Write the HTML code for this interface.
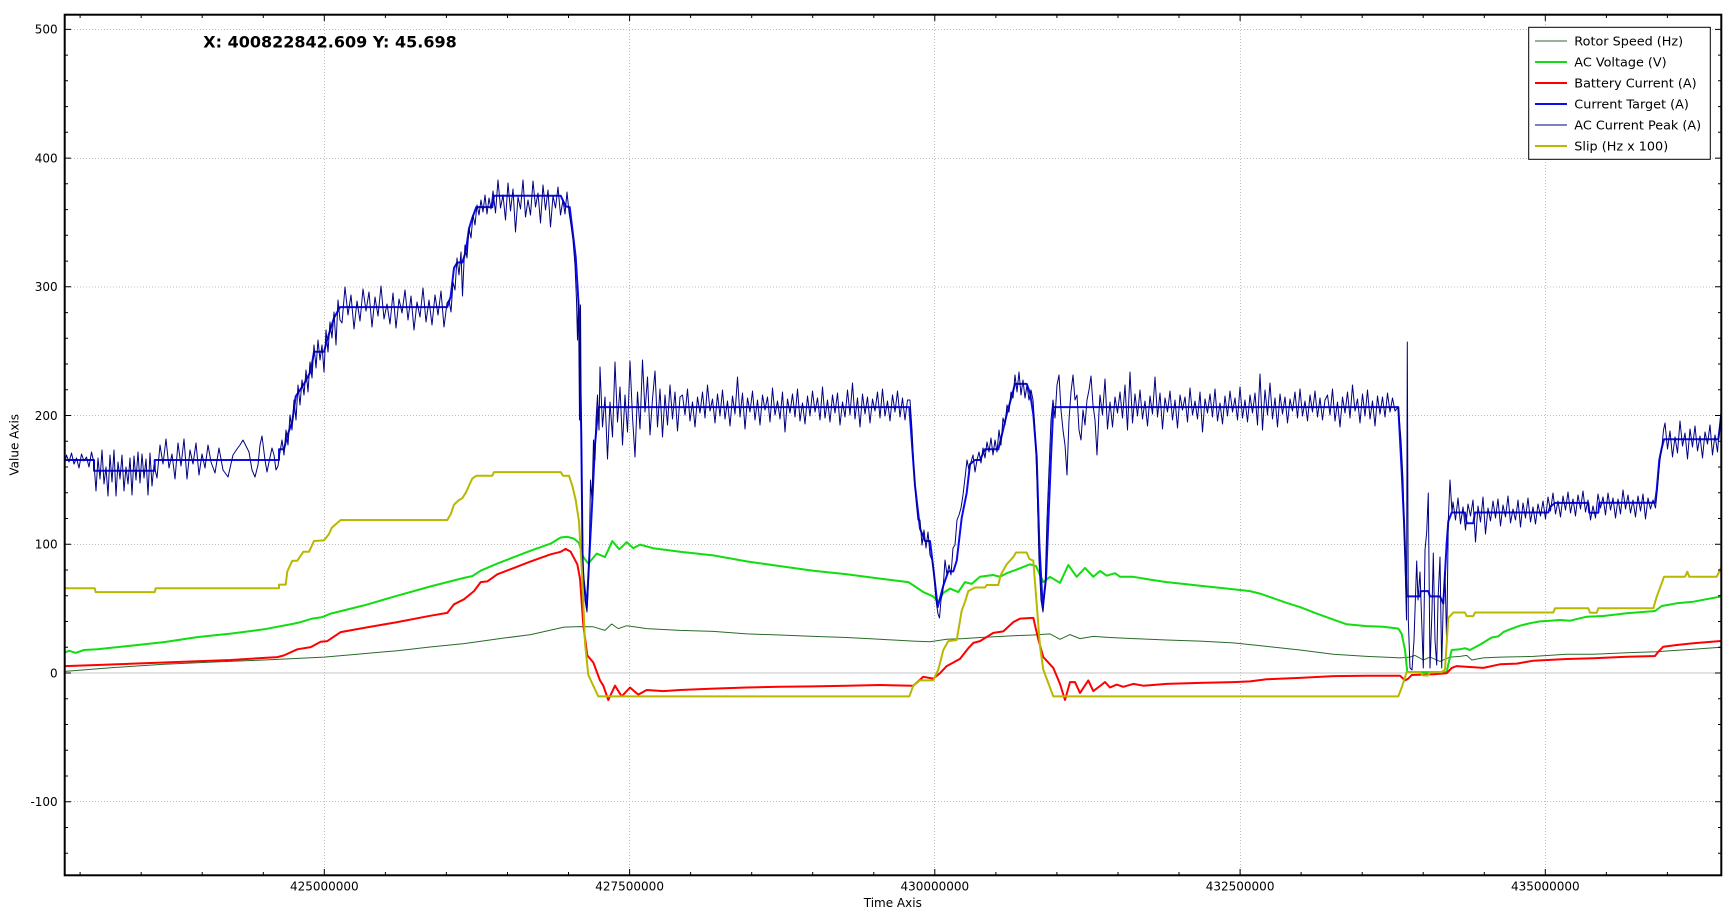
<!DOCTYPE html>
<html><head><meta charset="utf-8"><style>
html,body{margin:0;padding:0;background:#fff;}
body{width:1736px;height:918px;overflow:hidden;}
svg{display:block;}
text{font-family:"DejaVu Sans","Liberation Sans",sans-serif;fill:#000;}
</style></head><body>
<svg width="1736" height="918" viewBox="0 0 1736 918" xmlns="http://www.w3.org/2000/svg">
<defs><clipPath id="pc"><rect x="65" y="15" width="1656" height="860"/></clipPath></defs>
<rect x="0" y="0" width="1736" height="918" fill="#fff"/>
<!-- grid -->
<g stroke="#bdbdbd" stroke-width="1" stroke-dasharray="1,2" fill="none">
<path d="M65,29.5H1721M65,158.5H1721M65,287H1721M65,415.5H1721M65,544.5H1721M65,801.5H1721"/>
<path d="M324.5,15V875M629.5,15V875M934.5,15V875M1240.5,15V875M1545.5,15V875"/>
</g>
<path d="M65,673H1721" stroke="#c4c4c4" stroke-width="1"/>
<!-- series -->
<g clip-path="url(#pc)" fill="none" stroke-linejoin="round" stroke-linecap="round">
<path stroke="#2a6a2a" stroke-width="1" d="M64,671.4 L114,667.5 164,664.3 214,662 264,660 324,657.1 360,654 397.3,650.7 430,647 464,643.6 497,639 530.7,634.6 564,627.1 580,626.6 593.3,626.8 605,630.4 611.7,624 618.3,628.6 626.7,625.7 646.7,628.6 680,630.4 713.3,631.4 746.7,633.9 780,635 813.3,636.4 846.7,637.5 880,639.3 913.3,641.1 930,641.8 946.7,639.3 963.3,638.6 980,637.5 1013.3,635.7 1033.3,635 1050,633.9 1060,639.3 1070,634.6 1080,638.6 1093.3,636.4 1110,637.5 1133.3,638.6 1166.7,640 1200,641.1 1233.3,642.9 1266.7,646.4 1300,650 1333.3,654.3 1366.7,656.4 1400,657.9 1410,657.1 1415,655.4 1423.3,660 1430,657.1 1440,661.4 1450,657.1 1460,656.4 1466.7,655.4 1471.7,660 1483.3,657.9 1500,657.1 1533.3,656.4 1566.7,654.3 1593.3,654.3 1626.7,652.7 1656.7,651.7 1666.7,651 1693.3,649.3 1721,647.3"/>
<path stroke="#11dd11" stroke-width="2" d="M64,652.9 L69,650.7 75.7,652.9 84,650 97.3,649.3 130.7,645.7 164,642.1 197.3,637.1 230.7,633.6 264,629.3 294,623.6 300.7,622.1 312.3,618.6 322.3,617.1 330.7,613.6 364,605.4 397.3,595.7 430.7,586.4 447.3,582.1 464,577.9 472.3,576.1 480.7,570.7 497.3,563.6 514,557.1 530.7,550.7 550.7,543.6 560.7,537.5 567.3,536.8 574,538.6 579,542.9 583.3,557 588.3,563.6 596.7,553.6 605,557.1 612.3,541.1 619.3,549.3 626.7,542.1 633.3,548.2 640,544.6 653.3,548.2 680,551.8 713.3,555.4 746.7,561.4 780,566.1 813.3,570.7 846.7,574.3 880,578.6 908.3,582.1 915,586.4 923.3,592.1 933.3,596.4 938.3,601.8 943.3,592.9 950,588.6 958.3,592.1 965,582.1 971.7,583.9 980,576.8 993.3,575 1000,576.8 1006.7,573.2 1016.7,569.6 1030,564.3 1036,566.1 1043.3,582.1 1050,576.8 1060,582.9 1068.3,565 1076.7,576.8 1085,567.9 1093.3,576.8 1100,571 1106.7,575.7 1115,573.2 1120,576.8 1133.3,576.8 1150,579.6 1166.7,582.1 1183.3,583.9 1200,585.7 1216.7,587.5 1233.3,589.3 1250,591.1 1260,593.6 1273.3,598.2 1286.7,602.9 1300,607.1 1316.7,613.6 1333.3,619.6 1346.7,624.3 1366.7,626.1 1383.3,626.8 1398.3,628.6 1401.7,633.9 1405,650 1407.3,672.1 1446.7,672.1 1448.3,664.3 1451.7,650 1460,649.3 1465,648.2 1470,650 1480,644.6 1491.7,637.5 1498.3,636.4 1503.3,632.1 1510,629.3 1520,625.7 1530,623.2 1540,621.4 1550,620.7 1560,620 1570,620.7 1586.7,616.7 1603.3,616 1626.7,613.3 1655,611 1661.7,606 1676.7,603.3 1693.3,601.7 1721,596.5"/>
<path stroke="#ff0000" stroke-width="2" d="M64,666.1 L97.3,665 164,662.5 230.7,660 277.3,657.1 284,655.4 297.3,649.3 310.7,647.1 320.7,641.8 327.3,641.1 340.7,632.1 364,627.9 397.3,622.1 430.7,615.7 447.3,612.9 454,604.3 464,599.3 474,591.1 480.7,582.1 487.3,581.4 497.3,574.3 514,567.9 530.7,561.4 550.7,554.3 560.7,551.8 565.7,548.9 570.7,551.8 577.3,564.3 580,578.6 583.3,625 587.3,655.4 593.3,662.5 600,680.4 603.3,685.7 608.3,700 615,685.7 621.7,696.4 630,687.5 638.3,694.6 646.7,690 663.3,691.1 680,690 713.3,688.6 746.7,687.5 780,686.8 813.3,686.4 846.7,685.7 880,685 913.3,685.7 923.3,676.8 933.3,678.6 940,673.2 946.7,666.1 960,658.9 968.3,648.2 973.3,642.9 980,641.1 993.3,632.9 1003.3,631.4 1013.3,622.1 1020,618.6 1033.3,617.9 1038.3,639.3 1043.3,657.1 1053.3,667.9 1060,683.9 1065,700 1070,682.1 1075,682.1 1080,692.9 1088.3,680.4 1093.3,691.1 1100,686 1105,682.1 1110,687.5 1116.7,684.6 1123.3,686.8 1133.3,683.9 1143.3,685.7 1166.7,683.9 1200,682.9 1233.3,682.1 1250,681.4 1266.7,679.3 1300,677.9 1333.3,676.1 1366.7,675.7 1400,675.7 1405,680.4 1408.3,678.6 1411.7,675 1433.3,674.3 1446.7,673.2 1451.7,667.9 1456.7,666.1 1483.3,667.9 1500,664.3 1516.7,663.6 1533.3,660.7 1566.7,659 1593.3,658.3 1626.7,656.7 1655,656 1658.3,651.7 1663.3,646.7 1676.7,645 1693.3,643.3 1721,641"/>
<path stroke="#0a0af5" stroke-width="2" d="M64,460 L94,460 94,470.7 154.7,470.7 154.7,460 279,460 279,449.3 284,449.3 287.3,435.7 292.3,421.4 295.7,396.4 304,384 310.7,371.4 314,351.8 324,351.8 327.3,339.3 334,317.9 340,307.1 447.3,307.1 450.7,296.4 454,267.9 457.3,262.5 462.3,262.5 465.7,251.8 469,228.6 472.3,217.9 476.3,207.1 492.3,207.1 494,195.7 560.7,195.7 565.7,206.4 569.7,207.1 572.3,228.6 575.7,257 579,310.7 581.3,435.7 582.7,571.4 586.7,607.1 592.7,492.9 595,444.6 598.3,407.1 909.3,407.1 915,485.7 920,528.6 925,541 930,541 933.3,567.9 937.7,607.1 943.3,585.7 948.3,571.4 953.3,571.4 956.7,560.7 961.7,517.9 966.7,492.9 970,464.3 975,460 980,460 985,449.3 998.3,449.3 1001.7,435.7 1006.7,414.3 1011.7,396.4 1015,383.9 1026.7,383.9 1030,392.9 1033.3,414.3 1036.7,457.1 1039.3,542.9 1042.7,607.1 1046,578.6 1051,457.1 1053.3,407.1 1398.3,407.1 1401.7,471.4 1404,521.4 1406.7,596.4 1420,596.4 1420.7,591.1 1428.3,591.1 1430,596.4 1440,596.4 1443.3,603.6 1446.7,542.9 1448.3,521.4 1451.7,512.5 1465,512.5 1466.7,523.2 1473.3,523.2 1475,512.5 1548.3,512.5 1550,507 1555,502.9 1588.3,502.9 1589.3,512.7 1598.3,512.7 1599.3,502.7 1655,502.7 1656.7,490 1659.3,460 1661.7,448.3 1664,439.3 1718.3,439.3 1720,426 1721,416.7"/>
<path stroke="#000080" stroke-width="1" d="M64,466 L66.5,455 69,462 71.5,453 74,464 76.5,458 79,468 81.5,454 84,461 86.5,457 89,467 91.5,452 94,463 96,491 98,458 100,479 102,450 104,484 106,467 108,496 110,455 112,482 114,450 116,496 118,462 120,479 122,455 124,491 126,467 128,484 130,458 132,495 134,456 136,480 138,452 140,483 142,454 144,478 146,459 148,495 150,453 152,486 154,465 157,478 160,445 163,464 166,439 169,468 172,454 175,479 178,443 181,466 184,439 187,479 190,450 193,464 196,443 199,475 202,454 205,468 208,445 211,462 215,473 219,448 223,470 228,477 233,455 237,449 240,445 243,440 246,446 249,452 252,470 255,477 258,465 260,445 262,436 265,460 267,472 269,462 272,448 274,455 276,470 278,466 280,452 282,440 284,455 286,430 288,445 290,415 292,430 294,400 296,420 298,385 300,405 302,380 304,395 306,370 308,392 310,362 312,378 314,345 316,368 318,340 320,360 322,345 324,372 326,330 328,352 330,322 332,338 334,312 336,345 338,300 340,320 342,323 345,287 348,315 351,295 354,329 357,301 360,321 363,289 366,311 369,292 372,327 375,297 378,316 381,286 384,319 387,304 390,324 393,293 396,328 399,299 402,313 405,290 408,320 411,296 414,330 417,302 420,317 423,288 426,322 429,300 432,325 435,295 438,315 441,291 444,327 447,303 449,300 451,312 453,282 455,290 457,258 459,275 461,252 462.5,296 464,262 465,245 467,258 469,228 471,238 473,215 475,225 477,205 479,215 481,200 483,212 485,195 487,214 489,198 491,209 493,191 495.5,213 498,180 500.5,208 503,195 505.5,220 508,183 510.5,211 513,189 515.5,232 518,197 520.5,209 523,180 525.5,217 528,200 530.5,215 533,181 535.5,207 538,193 540.5,223 543,185 545.5,210 548,190 550.5,227 553,196 555.5,208 558,187 560.5,215 563,200 565,214 567,192 569,212 571,225 573,240 575,265 576.5,300 577.5,340 578.5,300 579.5,420 580.5,305 581.5,460 583,560 585,600 587,612 589,570 590.5,480 592,500 593.5,440 595,460 596,420 597.5,395 599,430 600,367 602.5,427 605,397 607.5,459 610,402 612.5,437 615,362 617.5,422 620,387 622.5,445 625,395 627.5,432 630,361 632.5,417 635,457 637.5,392 640,429 642.5,360 645,412 647.5,377 650,435 652.5,399 655,371 657.5,427 660,389 662.5,437 665,395 667.5,425 670,385 672.5,419 675,392 677.5,431 680,397 682.5,395 685,415 687.5,389 690,421 692.5,402 695,427 697.5,397 700,413 702.5,392 705,418 707.5,385 710,411 712.5,399 715,423 717.5,394 720,416 722.5,390 725,419 727.5,401 730,426 732.5,396 735,414 737.5,377 740,417 742.5,393 745,429 747.5,398 750,412 752.5,391 755,420 757.5,400 760,425 762.5,395 765,410 767.5,397 770,422 772.5,388 775,415 777.5,401 780,419 782.5,392 785,432 787.5,399 790,413 792.5,394 795,417 797.5,389 800,421 802.5,403 805,424 807.5,396 810,416 812.5,391 815,412 817.5,398 820,420 822.5,387 825,418 827.5,400 830,422 832.5,395 835,413 837.5,393 840,425 842.5,402 845,417 847.5,390 850,415 852.5,383 855,419 857.5,398 860,427 862.5,394 865,414 867.5,397 870,423 872.5,399 875,411 877.5,392 880,418 882.5,389 885,416 887.5,401 890,421 892.5,395 895,412 897.5,391 900,417 902.5,398 905,420 907.5,400 910,400 912,430 914,470 916,500 918,520 920,520 922,545 924,530 926,548 928,532 930,555 932,560 934,575 936,600 938,614 939.5,618 941,600 943,590 945,560 947,575 949,565 951,575 953,548 955,545 957,520 959,515 961,508 963,495 965,478 967,460 969,470 971,462 973,455 975,472 977,460 979,452 981,463 983,448 985,458 987,442 989,452 991,438 993,455 995,440 997,452 999,430 1001,445 1003,418 1005,425 1007,405 1009,412 1011,392 1013,398 1015,375 1017,392 1019,372 1021,395 1023,380 1025,398 1027,385 1029,400 1031,390 1033,400 1035,430 1037,480 1039,560 1041,600 1043,612 1045,590 1047,520 1049,470 1051,420 1053,400 1055,418 1057,385 1059,375 1061,410 1063,430 1065,445 1067,475 1069,420 1071,392 1073,375 1075,400 1077,395 1079,430 1081,440 1083,410 1085,425 1087,400 1089,390 1091,376 1093,405 1095,420 1097,455 1099,412 1100,395 1102.5,415 1105,379 1107.5,429 1110,402 1112.5,427 1115,397 1117.5,413 1120,392 1122.5,418 1125,385 1127.5,430 1130,372 1132.5,423 1135,394 1137.5,416 1140,390 1142.5,419 1145,401 1147.5,426 1150,396 1152.5,414 1155,377 1157.5,417 1160,393 1162.5,429 1165,398 1167.5,412 1170,391 1172.5,420 1175,400 1177.5,428 1180,395 1182.5,410 1185,397 1187.5,422 1190,388 1192.5,415 1195,401 1197.5,419 1200,392 1202.5,432 1205,399 1207.5,413 1210,394 1212.5,417 1215,389 1217.5,421 1220,403 1222.5,424 1225,396 1227.5,416 1230,391 1232.5,412 1235,398 1237.5,420 1240,387 1242.5,418 1245,400 1247.5,422 1250,395 1252.5,413 1255,393 1257.5,425 1260,374 1262.5,430 1265,390 1267.5,415 1270,383 1272.5,419 1275,398 1277.5,427 1280,394 1282.5,414 1285,397 1287.5,423 1290,399 1292.5,411 1295,392 1297.5,418 1300,389 1302.5,416 1305,401 1307.5,421 1310,395 1312.5,412 1315,391 1317.5,417 1320,398 1322.5,420 1325,400 1327.5,395 1330,415 1332.5,389 1335,421 1337.5,402 1340,427 1342.5,397 1345,413 1347.5,392 1350,418 1352.5,385 1355,411 1357.5,399 1360,423 1362.5,394 1365,416 1367.5,390 1370,419 1372.5,401 1375,426 1377.5,396 1380,414 1382.5,397 1385,417 1387.5,393 1390,412 1392.5,398 1395,411 1398.3,407 1401,440 1403,480 1405,560 1406.5,620 1407.3,342 1408.3,620 1410,668 1412,670 1414,640 1416.7,561 1418,600 1420,572 1423.3,668 1425,550 1426.7,532 1428.3,493 1430,668 1432,610 1433.3,553 1435,640 1436.7,665 1438,600 1440,557 1441.7,668 1443.3,600 1445,572 1446.7,645 1448.3,520 1450,480 1452,512 1453,502 1455.5,520 1458,498 1460.5,524 1463,507 1465.5,530 1468,504 1470.5,516 1473,500 1475.5,542 1478,506 1480.5,522 1483,497 1485.5,534 1488,508 1490.5,521 1493,501 1495.5,518 1498,499 1500.5,526 1503,505 1505.5,517 1508,496 1510.5,523 1513,509 1515.5,520 1518,500 1520.5,527 1523,503 1525.5,518 1528,498 1530.5,522 1533,507 1535.5,524 1538,504 1540.5,516 1543,501 1545.5,519 1548,497 1550.5,511 1553,493 1555.5,514 1558,501 1560.5,517 1563,496 1565.5,510 1568,492 1570.5,513 1573,499 1575.5,516 1578,495 1580.5,509 1583,491 1585.5,512 1588,500 1590.5,520 1593,506 1595.5,518 1598,494 1600.5,508 1603,497 1605.5,515 1608,493 1610.5,510 1613,498 1615.5,518 1618,499 1620.5,514 1623,490 1625.5,509 1628,495 1630.5,513 1633,500 1635.5,517 1638,496 1640.5,511 1643,494 1645.5,519 1648,498 1650.5,509 1653,500 1655.5,508 1657.5,488 1659,470 1660.5,455 1662,446 1663.5,430 1665,423 1667.5,449 1670,431 1672.5,457 1675,437 1677.5,453 1680,421 1682.5,446 1685,433 1687.5,459 1690,429 1692.5,447 1695,426 1697.5,451 1700,436 1702.5,458 1705,432 1707.5,444 1710,425 1712.5,455 1715,435 1717.5,452 1719.5,428 1721,412"/>
<path stroke="#b8b800" stroke-width="2" d="M64,588.2 L94.7,588.2 95.7,592.1 154.7,592.1 155.7,588.2 279,588.2 279,584.6 285.7,584.6 287.3,571.4 292.3,560.7 297.3,560.7 303.3,551.8 309,551.8 314,541 324,540.4 329,534 331.7,527.9 335.7,524.3 340.7,520 447.3,520 450.7,514.3 454,504.6 459,500 462.3,498.2 465.7,492.9 470.7,482 472.3,478.6 476.3,475.7 492.3,475.7 494,472.1 560.7,472.1 563,475.7 569,475.7 572.3,485.7 575.7,500 579,521.4 582.3,578.6 585,642.9 588.3,675 598.3,696.4 909.3,696.4 913.3,685.7 920,680.4 933.3,680.4 938.3,669.6 943.3,650 948.3,641.1 956.7,640 961.7,610.7 965,601.8 968.3,591.1 975,587.5 985,587.5 986.7,585 998.3,585 1000.7,575 1006.7,564.3 1013.3,557.1 1016,552.5 1026.7,552.5 1029.3,558.9 1033.3,560.7 1040,646.4 1043.3,669.6 1053.3,696.4 1398.3,696.4 1401.7,687.5 1406.7,672.1 1420,672.1 1423,675.5 1428,675.5 1430,672.1 1441.7,672.1 1445,669.6 1448.3,617.9 1453.3,612.5 1465,612.5 1466.7,616.1 1473.3,616.1 1475,612.5 1553.3,612.5 1555,608.3 1588.3,608.3 1590,612.7 1596.7,612.7 1598.3,608.3 1653.3,608.3 1656.7,596.7 1661.7,583.3 1664,576.7 1685,576.7 1687.3,571.7 1689.3,576.7 1716.7,576.7 1720,570 1721,568"/>
</g>
<!-- frame -->
<rect x="64.7" y="14.7" width="1656.6" height="860.6" fill="none" stroke="#000" stroke-width="2"/>
<!-- ticks -->
<g stroke="#000" stroke-width="1" fill="none">
<path d="M65,853.2h3M65,827.5h3M65,801.7h6M65,776h3M65,750.2h3M65,724.5h3M65,698.7h3M65,673h6M65,647.3h3M65,621.5h3M65,595.8h3M65,570h3M65,544.3h6M65,518.5h3M65,492.8h3M65,467h3M65,441.3h3M65,415.5h6M65,389.8h3M65,364h3M65,338.3h3M65,312.6h3M65,286.8h6M65,261.1h3M65,235.3h3M65,209.6h3M65,183.8h3M65,158.1h6M65,132.3h3M65,106.6h3M65,80.8h3M65,55.1h3M65,29.4h6"/>
<path d="M1721,853.2h-3M1721,827.5h-3M1721,801.7h-6M1721,776h-3M1721,750.2h-3M1721,724.5h-3M1721,698.7h-3M1721,673h-6M1721,647.3h-3M1721,621.5h-3M1721,595.8h-3M1721,570h-3M1721,544.3h-6M1721,518.5h-3M1721,492.8h-3M1721,467h-3M1721,441.3h-3M1721,415.5h-6M1721,389.8h-3M1721,364h-3M1721,338.3h-3M1721,312.6h-3M1721,286.8h-6M1721,261.1h-3M1721,235.3h-3M1721,209.6h-3M1721,183.8h-3M1721,158.1h-6M1721,132.3h-3M1721,106.6h-3M1721,80.8h-3M1721,55.1h-3M1721,29.4h-6"/>
<path d="M80.1,875v-3M141.2,875v-3M202.2,875v-3M263.3,875v-3M324.3,875v-6M385.4,875v-3M446.4,875v-3M507.5,875v-3M568.5,875v-3M629.6,875v-6M690.6,875v-3M751.7,875v-3M812.7,875v-3M873.8,875v-3M934.8,875v-6M995.9,875v-3M1056.9,875v-3M1118,875v-3M1179,875v-3M1240.1,875v-6M1301.1,875v-3M1362.2,875v-3M1423.2,875v-3M1484.3,875v-3M1545.3,875v-6M1606.4,875v-3M1667.4,875v-3"/>
<path d="M80.1,15v3M141.2,15v3M202.2,15v3M263.3,15v3M324.3,15v6M385.4,15v3M446.4,15v3M507.5,15v3M568.5,15v3M629.6,15v6M690.6,15v3M751.7,15v3M812.7,15v3M873.8,15v3M934.8,15v6M995.9,15v3M1056.9,15v3M1118,15v3M1179,15v3M1240.1,15v6M1301.1,15v3M1362.2,15v3M1423.2,15v3M1484.3,15v3M1545.3,15v6M1606.4,15v3M1667.4,15v3"/>
</g>
<!-- tick labels -->
<g font-size="12" text-anchor="end">
<text x="57.7" y="33.7">500</text>
<text x="57.7" y="162.4">400</text>
<text x="57.7" y="291.1">300</text>
<text x="57.7" y="419.8">200</text>
<text x="57.7" y="548.6">100</text>
<text x="57.7" y="677.3">0</text>
<text x="57.7" y="806">-100</text>
</g>
<g font-size="12" text-anchor="middle">
<text x="324.3" y="890.3">425000000</text>
<text x="629.6" y="890.3">427500000</text>
<text x="934.8" y="890.3">430000000</text>
<text x="1240.1" y="890.3">432500000</text>
<text x="1545.3" y="890.3">435000000</text>
<text x="892.8" y="907">Time Axis</text>
<text transform="translate(18.5,444.8) rotate(-90)">Value Axis</text>
</g>
<text x="203.3" y="47.3" font-size="16" font-weight="bold">X: 400822842.609 Y: 45.698</text>
<!-- legend -->
<rect x="1528.7" y="27.3" width="181.6" height="132" fill="#fff" stroke="#000" stroke-width="1"/>
<g fill="none">
<path d="M1535,41H1567" stroke="#2a6a2a" stroke-width="1"/>
<path d="M1535,62H1567" stroke="#11dd11" stroke-width="2"/>
<path d="M1535,83H1567" stroke="#ff0000" stroke-width="2"/>
<path d="M1535,104H1567" stroke="#0a0af5" stroke-width="2"/>
<path d="M1535,125H1567" stroke="#000080" stroke-width="1"/>
<path d="M1535,146H1567" stroke="#b8b800" stroke-width="2"/>
</g>
<g font-size="12.8">
<text x="1574.3" y="45.7">Rotor Speed (Hz)</text>
<text x="1574.3" y="66.7">AC Voltage (V)</text>
<text x="1574.3" y="87.7">Battery Current (A)</text>
<text x="1574.3" y="108.7">Current Target (A)</text>
<text x="1574.3" y="129.7">AC Current Peak (A)</text>
<text x="1574.3" y="150.7">Slip (Hz x 100)</text>
</g>
</svg>
</body></html>
